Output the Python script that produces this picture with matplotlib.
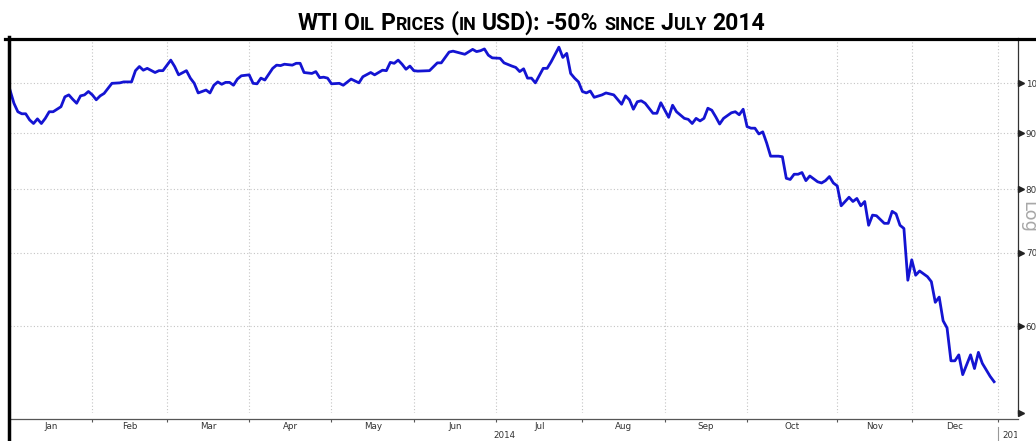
import matplotlib
matplotlib.use('Agg')
import matplotlib.pyplot as plt
from matplotlib.lines import Line2D
import matplotlib.transforms as mtransforms
from matplotlib.ticker import NullLocator

# ---------------- data ----------------
trading_day = [0, 1, 2, 3, 4, 5, 6, 7, 8, 9, 10, 11, 13, 14, 15, 16, 17, 18, 19, 20,
               21, 22, 23, 24, 26, 28, 29, 31, 32, 33, 34, 35, 37, 38, 39, 41, 42, 43, 45, 46,
               47, 48, 49, 50, 51, 52, 53, 54, 55, 56, 57, 58, 59, 61, 62, 63, 64, 65, 67, 68,
               69, 70, 72, 73, 74, 75, 77, 78, 79, 80, 81, 82, 84, 85, 87, 89, 90, 92, 93, 95,
               96, 97, 98, 99, 100, 101, 102, 103, 104, 107, 109, 110, 112, 113, 116, 118, 119, 120, 121, 122,
               123, 125, 126, 128, 129, 130, 131, 132, 133, 134, 136, 137, 138, 140, 141, 142, 143, 144, 145, 146,
               147, 148, 149, 151, 152, 154, 156, 157, 158, 159, 160, 161, 162, 164, 165, 166, 168, 169, 170, 172,
               173, 174, 175, 176, 177, 178, 179, 180, 181, 182, 184, 185, 186, 187, 188, 189, 190, 191, 192, 193,
               194, 196, 197, 198, 199, 200, 201, 202, 203, 204, 206, 207, 208, 209, 210, 211, 212, 214, 215, 216,
               217, 218, 219, 220, 221, 223, 224, 225, 226, 227, 228, 229, 230, 231, 232, 234, 235, 236, 237, 238,
               239, 240, 241, 242, 243, 245, 246, 247, 248, 250, 251]
price = [98.6, 95.9, 94.2, 93.8, 93.8, 92.6, 91.9, 92.8, 91.9, 92.9, 94.2, 94.2, 95.2, 97.2, 97.6, 96.7, 95.9, 97.4, 97.6, 98.3,
         97.6, 96.6, 97.4, 97.9, 100.0, 100.1, 100.3, 100.3, 102.7, 103.6, 102.8, 103.2, 102.3, 102.7, 102.7, 105.0, 103.6, 101.8, 102.7, 101.1,
         100.0, 98.0, 98.3, 98.6, 98.0, 99.6, 100.3, 99.8, 100.2, 100.2, 99.6, 100.9, 101.6, 101.8, 100.0, 99.9, 101.1, 100.7, 103.2, 103.9,
         103.8, 104.1, 103.9, 104.3, 104.3, 102.3, 102.1, 102.5, 101.2, 101.3, 101.1, 99.9, 100.0, 99.6, 100.9, 100.1, 101.4, 102.3, 101.8, 102.8,
         102.7, 104.5, 104.3, 105.0, 104.1, 103.0, 103.7, 102.7, 102.6, 102.7, 104.4, 104.4, 106.8, 107.0, 106.3, 107.4, 106.9, 107.1, 107.5, 106.1,
         105.5, 105.4, 104.4, 103.7, 103.4, 102.5, 103.1, 101.1, 101.1, 100.1, 103.2, 103.2, 104.6, 107.9, 105.6, 106.5, 102.1, 101.1, 100.3, 98.3,
         98.0, 98.4, 97.1, 97.6, 98.0, 97.6, 95.7, 97.4, 96.6, 94.7, 96.2, 96.4, 95.9, 93.9, 93.9, 96.0, 93.1, 95.5, 94.2, 92.9,
         92.7, 91.9, 92.9, 92.4, 92.9, 94.9, 94.5, 93.2, 91.8, 92.9, 94.0, 94.2, 93.6, 94.7, 91.3, 91.0, 91.0, 89.9, 90.3, 88.2,
         85.8, 85.8, 85.7, 81.9, 81.7, 82.6, 82.6, 82.9, 81.5, 82.3, 81.3, 81.1, 81.5, 82.2, 81.1, 80.6, 77.3, 78.7, 78.0, 78.5,
         77.3, 78.0, 74.2, 75.8, 75.7, 74.5, 74.5, 76.4, 76.0, 74.2, 73.7, 66.1, 69.0, 66.8, 67.4, 66.6, 65.9, 63.1, 63.8, 60.7,
         59.8, 55.8, 55.8, 56.5, 54.2, 56.5, 54.9, 56.8, 55.5, 54.0, 53.4]

month_start_day = [0, 21, 40, 61, 82, 103, 124, 146, 167, 188, 211, 230, 252]
month_labels = ['Jan', 'Feb', 'Mar', 'Apr', 'May', 'Jun', 'Jul', 'Aug', 'Sep', 'Oct', 'Nov', 'Dec']
year_labels = ['2014', '2015']
price_ticks = [50, 60, 70, 80, 90, 100]
price_tick_labels = ['', '60', '70', '80', '90', '100']
title_parts = [("WTI", "big"), (" ", "big"), ("O", "big"), ("IL", "small"), (" ", "big"),
               ("P", "big"), ("RICES", "small"), (" ", "big"), ("(", "big"), ("IN", "small"),
               (" ", "big"), ("USD):", "big"), (" ", "big"), ("-50%", "big"), (" ", "big"),
               ("SINCE", "small"), (" ", "big"), ("J", "big"), ("ULY", "small"), (" ", "big"),
               ("2014", "big")]

# ---------------- figure ----------------
W, H = 1036, 441
fig = plt.figure(figsize=(W / 100, H / 100), dpi=100)
fig.patch.set_facecolor('white')

ax_left, ax_right, ax_top, ax_bottom = 10, 1018, 38, 413
ax = fig.add_axes([ax_left / W, (H - ax_bottom) / H, (ax_right - ax_left) / W, (ax_bottom - ax_top) / H])
ax.set_yscale('log')
ax.set_ylim(50, 110)
ax.set_xlim(0, 257.1)

line_color = '#1414d2'
ax.plot(trading_day, price, color=line_color, lw=2.0, solid_joinstyle='round', zorder=3)

# grid
grid_kw = dict(color='#c4c4c4', lw=0.8, linestyle=(0, (1, 2)))
ax.set_yticks(price_ticks)
ax.set_yticklabels(price_tick_labels)
ax.yaxis.set_minor_locator(NullLocator())
ax.set_xticks(month_start_day[1:])
ax.set_xticklabels([''] * (len(month_start_day) - 1))
mids = [(a + b) / 2 for a, b in zip(month_start_day[:-1], month_start_day[1:])]
ax.set_xticks(mids, minor=True)
ax.set_xticklabels(month_labels, minor=True)
ax.grid(True, which='major', axis='both', **grid_kw)

ax.yaxis.tick_right()
ax.tick_params(axis='y', which='major', length=0, pad=5.6, labelsize=6.3, labelcolor='#333333')
ax.tick_params(axis='x', which='major', length=2.4, width=0.8, color='#555555', direction='out')
ax.tick_params(axis='x', which='minor', length=0, pad=2.6, labelsize=6.3, labelcolor='#333333')

for s in ['left', 'top']:
    ax.spines[s].set_visible(False)
ax.spines['right'].set_color('#333333')
ax.spines['right'].set_linewidth(0.9)
ax.spines['bottom'].set_position(('outward', 4))
ax.spines['bottom'].set_color('#555555')
ax.spines['bottom'].set_linewidth(0.9)

# right-pointing triangle tick markers
tri_tr = mtransforms.offset_copy(ax.get_yaxis_transform(), fig=fig, x=3.2, y=0, units='dots')
ax.plot([1.0] * len(price_ticks), price_ticks, linestyle='none', marker='>', markersize=4.2,
        color='#222222', transform=tri_tr, clip_on=False, zorder=4)

# year labels
xt = ax.get_xaxis_transform()
y_year = (ax_bottom - 436) / (ax_bottom - ax_top)
fig.text((month_start_day[0] + month_start_day[-1]) / 2, y_year, year_labels[0], transform=xt,
         ha='center', va='center', fontsize=6.3, color='#333333')
sep_y0 = (ax_bottom - 427) / (ax_bottom - ax_top)
sep_y1 = (ax_bottom - 441) / (ax_bottom - ax_top)
ax.plot([month_start_day[-1]] * 2, [sep_y0, sep_y1], transform=xt, color='#999999', lw=0.8, clip_on=False)
t2015 = fig.text(month_start_day[-1], y_year, year_labels[1],
                 transform=mtransforms.offset_copy(xt, fig=fig, x=4.5, y=0, units='dots'),
                 ha='left', va='center', fontsize=6.3, color='#333333')
t2015.set_clip_box(mtransforms.TransformedBbox(mtransforms.Bbox([[0, 0], [1016.5 / W, 1]]), fig.transFigure))
t2015.set_clip_on(True)

# "Log" label
fig.text(1028 / W, 1 - 217 / H, 'Log', rotation=270, ha='center', va='center',
         fontsize=13, color='#a8a8a8')

# frame bars
fig.add_artist(Line2D([5 / W, 1], [1 - 38.5 / H] * 2, transform=fig.transFigure, color='black', lw=2.3))
fig.add_artist(Line2D([8.7 / W] * 2, [0, 1 - 37 / H], transform=fig.transFigure, color='black', lw=2.5))

# ---------------- title with small caps ----------------
renderer = fig.canvas.get_renderer()
title_font = dict(family='Roboto', weight='bold')
small_ratio = 0.78


def measure(s, size):
    a = fig.text(0, 0, 'X' + s + 'X', fontsize=size, **title_font)
    b = fig.text(0, 0, 'XX', fontsize=size, **title_font)
    w = a.get_window_extent(renderer).width - b.get_window_extent(renderer).width
    a.remove()
    b.remove()
    return w


base = 15.0
target_w = 467.0
w0 = sum(measure(s, base if k == 'big' else base * small_ratio) for s, k in title_parts)
big = base * target_w / w0
widths = [measure(s, big if k == 'big' else big * small_ratio) for s, k in title_parts]
total = sum(widths)
x = 531.0 - total / 2
baseline = 1 - 30.0 / H
for (s, k), w in zip(title_parts, widths):
    if s.strip():
        fig.text(x / W, baseline, s, fontsize=big if k == 'big' else big * small_ratio,
                 ha='left', va='baseline', color='black', **title_font)
    x += w

fig.savefig('out.png', dpi=100)
